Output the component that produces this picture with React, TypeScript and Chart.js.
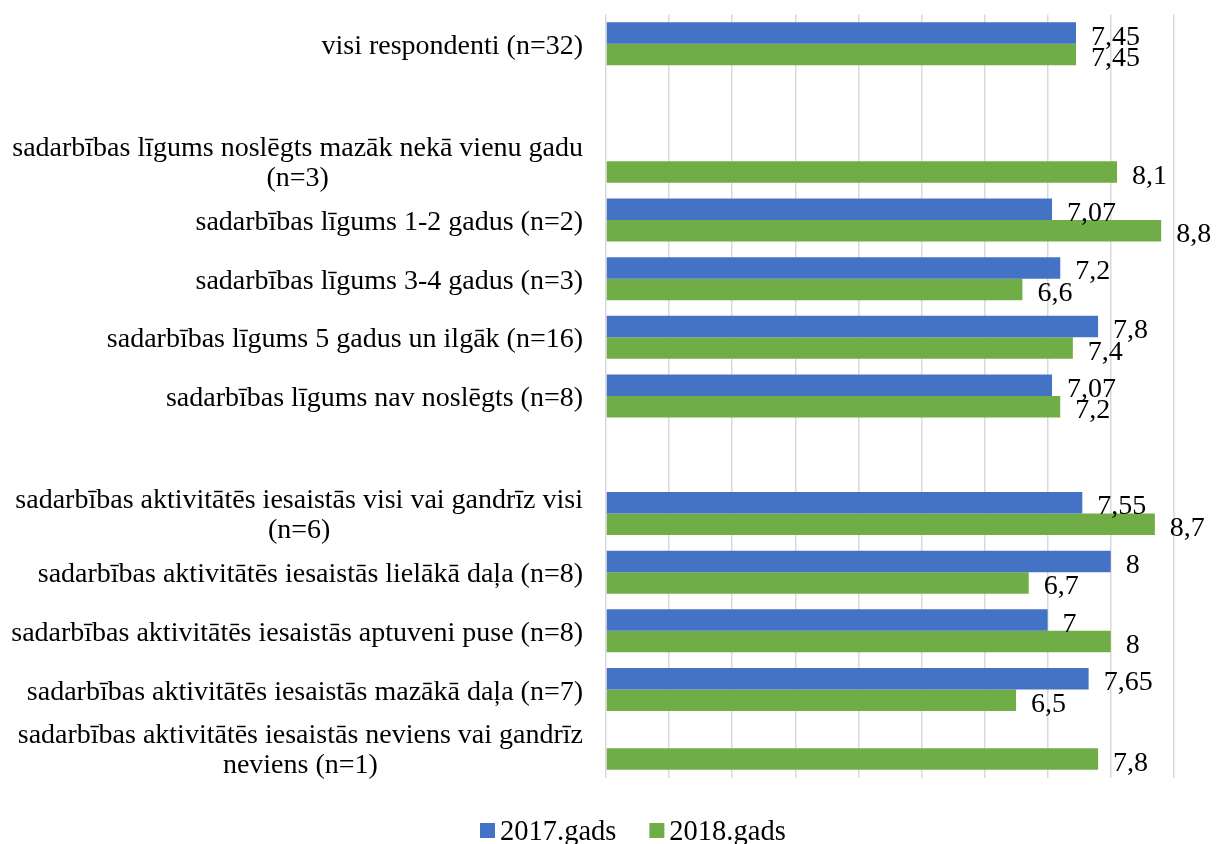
import React, { useEffect, useRef } from "react";
import { Chart, registerables } from "chart.js";

Chart.register(...registerables);

// ---- data ----
const categories: (string | string[])[] = [
  "visi respondenti (n=32)",
  "",
  ["sadarbības līgums noslēgts mazāk nekā vienu gadu", "(n=3)"],
  "sadarbības līgums 1-2 gadus (n=2)",
  "sadarbības līgums 3-4 gadus (n=3)",
  "sadarbības līgums 5 gadus un ilgāk (n=16)",
  "sadarbības līgums nav noslēgts (n=8)",
  "",
  ["sadarbības aktivitātēs iesaistās visi vai gandrīz visi", "(n=6)"],
  "sadarbības aktivitātēs iesaistās lielākā daļa (n=8)",
  "sadarbības aktivitātēs iesaistās aptuveni puse (n=8)",
  "sadarbības aktivitātēs iesaistās mazākā daļa (n=7)",
  ["sadarbības aktivitātēs iesaistās neviens vai gandrīz", "neviens (n=1)"],
];

const values2017: (number | null)[] = [7.45, null, null, 7.07, 7.2, 7.8, 7.07, null, 7.55, 8, 7, 7.65, null];
const values2018: (number | null)[] = [7.45, null, 8.1, 8.8, 6.6, 7.4, 7.2, null, 8.7, 6.7, 8, 6.5, 7.8];

const seriesNames = ["2017.gads", "2018.gads"];
const seriesColors = ["#4472C4", "#70AD47"];

const xMin = 0;
const xMax = 9;
const xStep = 1;

// ---- styling ----
const FONT = '28px "Liberation Serif", "Times New Roman", serif';
const LEGEND_FONT = '28.5px "Liberation Serif", "Times New Roman", serif';
const TEXT_COLOR = "#000000";

const textPlugin = {
  id: "customText",
  afterDatasetsDraw(chart: any) {
    const ctx = chart.ctx;
    ctx.save();
    ctx.font = FONT;
    ctx.fillStyle = TEXT_COLOR;
    ctx.textAlign = "left";
    ctx.textBaseline = "alphabetic";
    chart.data.datasets.forEach((ds: any, di: number) => {
      const meta = chart.getDatasetMeta(di);
      meta.data.forEach((el: any, i: number) => {
        const v = ds.data[i];
        if (v === null || v === undefined) return;
        const txt = String(v).replace(".", ",");
        ctx.fillText(txt, el.x + 15, el.y + 11.5);
      });
    });
    ctx.restore();
  },
  afterDraw(chart: any) {
    const ctx = chart.ctx;
    const yScale = chart.scales.y;
    ctx.save();
    ctx.font = FONT;
    ctx.fillStyle = TEXT_COLOR;
    ctx.textAlign = "center";
    ctx.textBaseline = "alphabetic";
    const right = chart.chartArea.left - 23;
    const lineH = 30;
    chart.data.labels.forEach((lab: any, i: number) => {
      const lines: string[] = Array.isArray(lab) ? lab : [lab];
      if (!lines.join("")) return;
      const w = Math.max(...lines.map((l) => ctx.measureText(l).width));
      const cx = right - w / 2;
      const cy = yScale.getPixelForValue(i);
      lines.forEach((l, k) => {
        ctx.fillText(l, cx, cy + 10 + (k - (lines.length - 1) / 2) * lineH);
      });
    });

    // legend
    ctx.font = LEGEND_FONT;
    ctx.textAlign = "left";
    let x = 480;
    const boxSize = 15;
    const boxTop = 823;
    const baseline = 840;
    chart.data.datasets.forEach((ds: any) => {
      ctx.fillStyle = ds.backgroundColor;
      ctx.fillRect(x, boxTop, boxSize, boxSize);
      ctx.fillStyle = TEXT_COLOR;
      const tx = x + boxSize + 5;
      ctx.fillText(ds.label, tx, baseline);
      x = tx + ctx.measureText(ds.label).width + 33;
    });
    ctx.restore();
  },
};

export default function App() {
  const canvasRef = useRef<HTMLCanvasElement | null>(null);

  useEffect(() => {
    document.body.style.margin = "0";
    const canvas = canvasRef.current;
    if (!canvas) return;
    const chart = new Chart(canvas, {
      type: "bar",
      data: {
        labels: categories,
        datasets: [
          {
            label: seriesNames[0],
            data: values2017,
            backgroundColor: seriesColors[0],
            borderWidth: 0,
            barPercentage: 1,
            categoryPercentage: 0.733,
          },
          {
            label: seriesNames[1],
            data: values2018,
            backgroundColor: seriesColors[1],
            borderWidth: 0,
            barPercentage: 1,
            categoryPercentage: 0.733,
          },
        ],
      },
      options: {
        indexAxis: "y",
        responsive: false,
        animation: false,
        events: [],
        layout: {
          padding: { top: 14.5, right: 56.2, bottom: 66.4, left: 0 },
        },
        scales: {
          x: {
            type: "linear",
            min: xMin,
            max: xMax,
            ticks: { display: false, stepSize: xStep },
            grid: {
              display: true,
              color: "#d9d9d9",
              lineWidth: 1.5,
              drawTicks: false,
            },
            border: { display: false },
            afterFit: (s: any) => {
              s.height = 0;
            },
          },
          y: {
            type: "category",
            ticks: { display: false },
            grid: { display: false },
            border: { display: false },
            afterFit: (s: any) => {
              s.width = 606;
            },
          },
        },
        plugins: {
          legend: { display: false },
          tooltip: { enabled: false },
        },
      } as any,
      plugins: [textPlugin],
    });
    return () => chart.destroy();
  }, []);

  return (
    <div style={{ width: 1230, height: 844 }}>
      <canvas ref={canvasRef} width={1230} height={844} style={{ display: "block" }} />
    </div>
  );
}
